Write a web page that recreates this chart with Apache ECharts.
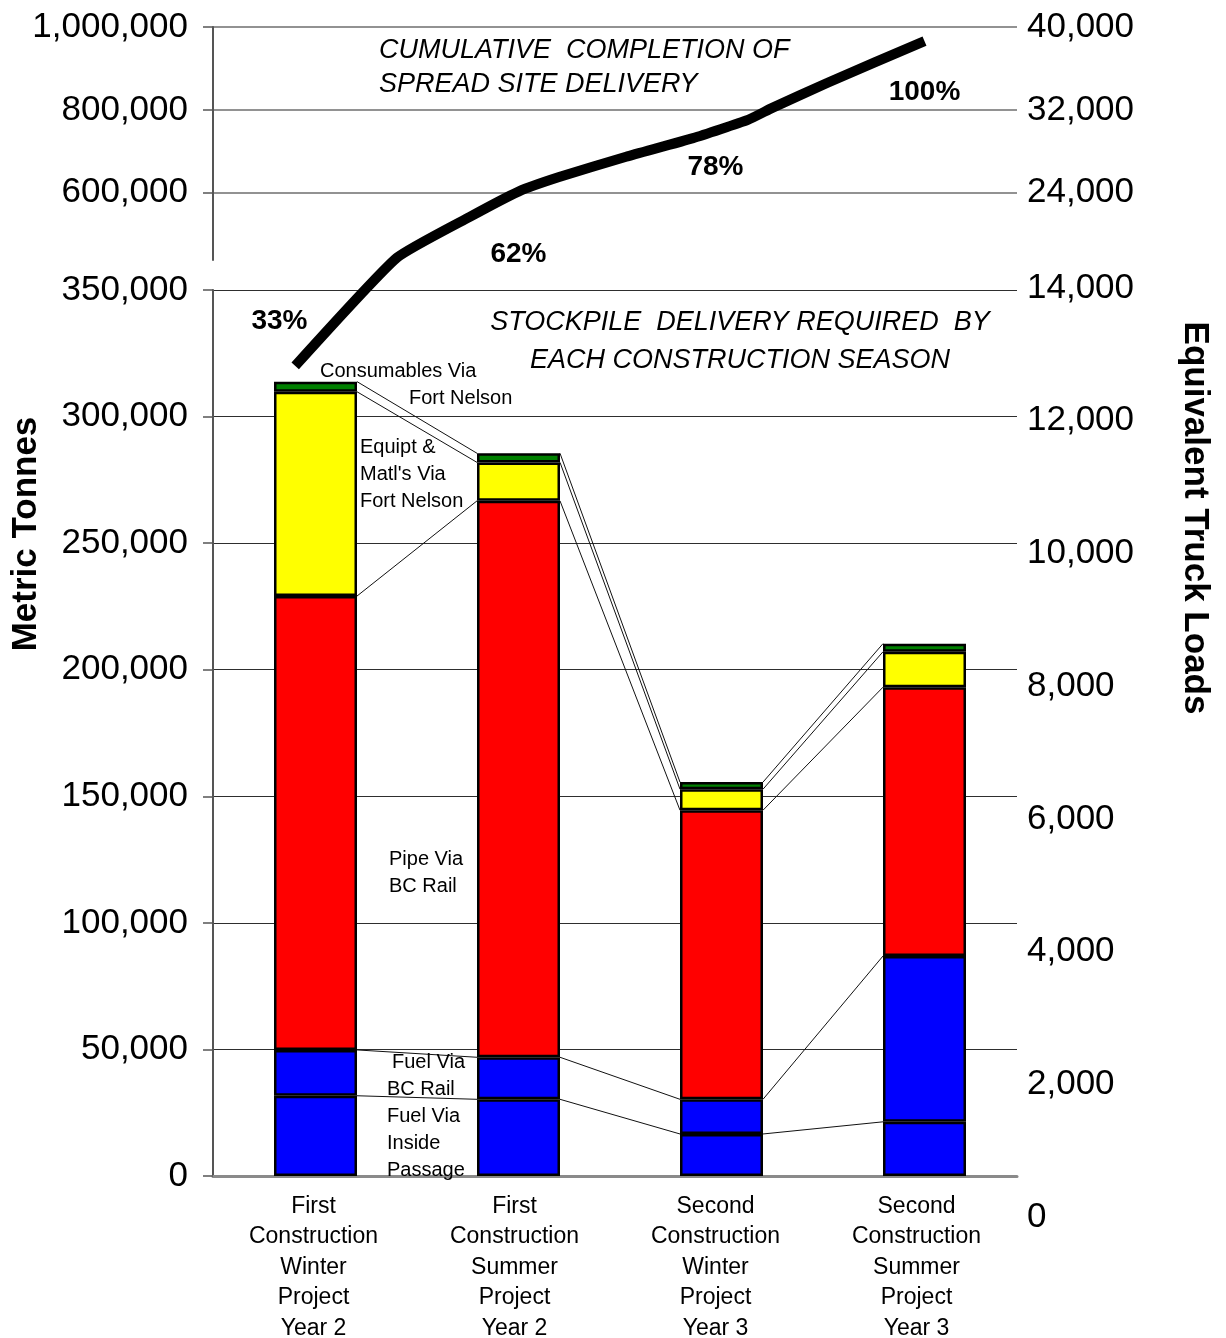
<!DOCTYPE html>
<html>
<head>
<meta charset="utf-8">
<title>Stockpile Delivery by Construction Season</title>
<script src="https://cdn.jsdelivr.net/npm/echarts@6/dist/echarts.min.js"></script>
<style>
  html, body { margin: 0; padding: 0; background: #fff; }
  #chart { width: 1226px; height: 1338px; }
</style>
</head>
<body>
<div id="chart"></div>
<script>
// ---- data ----
const categories = [
  'First\nConstruction\nWinter\nProject\nYear 2',
  'First\nConstruction\nSummer\nProject\nYear 2',
  'Second\nConstruction\nWinter\nProject\nYear 3',
  'Second\nConstruction\nSummer\nProject\nYear 3'
];
// metric tonnes per season, stacked bottom to top
const fuelInsidePassage     = [31700, 30300, 16600, 21400];
const fuelBCRail            = [18100, 16600, 13700, 65500];
const pipeBCRail            = [179300, 219800, 114200, 106200];
const equipMatlsFortNelson  = [80700, 15200, 8300, 14000];
const consumablesFortNelson = [4000, 3600, 2800, 3200];

// cumulative completion curve (position along the season axis, tonnes)
const cumulativeX      = [-0.1, 0.4, 0.76, 1.0, 1.2, 1.53, 1.86, 2.13, 2.25, 2.52, 3.0];
const cumulativeTonnes = [320000, 443000, 542000, 603000, 638000, 687000, 732000, 776000, 805000, 865000, 966000];

// axis tick values
const upperTonneTicks = [600000, 800000, 1000000];
const upperTruckTicks = [24000, 32000, 40000];

// ---- layout of the broken value axis ----
const FONT = "'Liberation Sans', Arial, sans-serif";
const LEFT = 213, PLOT_W = 804;
const BAR_LEFT = 214, BAR_W_AREA = 812, BAR_WIDTH = 83;
const LOW_TOP = 290, LOW_H = 886, LOW_MAX = 350000;
const UP_TOP = 27, UP_H = 233, UP_MIN = 438000, UP_MAX = 1000000;
const GAP_PX = LOW_TOP - (UP_TOP + UP_H);
const pxPerTLow = LOW_H / LOW_MAX;
const pxPerTUp = UP_H / (UP_MAX - UP_MIN);

// maps tonnes onto one continuous scale spanning both axis segments
function brokenScale(v) {
  if (v <= LOW_MAX) return v;
  if (v >= UP_MIN) return LOW_MAX + (GAP_PX + (v - UP_MIN) * pxPerTUp) / pxPerTLow;
  return LOW_MAX + ((v - LOW_MAX) / (UP_MIN - LOW_MAX)) * GAP_PX / pxPerTLow;
}

const stackSeries = [
  { name: 'Fuel Via Inside Passage', data: fuelInsidePassage, color: '#0000FF' },
  { name: 'Fuel Via BC Rail', data: fuelBCRail, color: '#0000FF' },
  { name: 'Pipe Via BC Rail', data: pipeBCRail, color: '#FF0000' },
  { name: "Equipt & Matl's Via Fort Nelson", data: equipMatlsFortNelson, color: '#FFFF00' },
  { name: 'Consumables Via Fort Nelson', data: consumablesFortNelson, color: '#008000' }
];

// cumulative tops of each stack boundary, per season
const boundaries = [];
let running = [0, 0, 0, 0];
stackSeries.forEach(s => {
  running = running.map((r, i) => r + s.data[i]);
  boundaries.push(running.slice());
});
const seasonTotals = boundaries[boundaries.length - 1];
const grandTotal = seasonTotals.reduce((a, b) => a + b, 0);
const cumulativeBySeason = [];
seasonTotals.reduce((acc, t) => { cumulativeBySeason.push(acc + t); return acc + t; }, 0);

// connector segments between adjacent bars
const connectorData = [];
boundaries.forEach(b => {
  for (let i = 0; i < b.length - 1; i++) connectorData.push([i, b[i], i + 1, b[i + 1]]);
});

const pctOffsets = [[-36, -60], [0, 61], [-6, 39], [0, 51]];

const fmt = v => Number(v).toLocaleString('en-US');
const tickLabel = { color: '#000', fontSize: 35, fontFamily: FONT, formatter: fmt };

const gridBase = { outerBoundsMode: 'none', containLabel: false };

const chart = echarts.init(document.getElementById('chart'), null, { renderer: 'canvas' });

const option = {
  animation: false,
  backgroundColor: '#fff',
  textStyle: { fontFamily: FONT },
  grid: [
    Object.assign({ left: LEFT, top: LOW_TOP, width: PLOT_W, height: LOW_H }, gridBase),          // lower tonnes axis
    Object.assign({ left: LEFT, top: UP_TOP, width: PLOT_W, height: UP_H }, gridBase),            // upper tonnes axis
    Object.assign({ left: LEFT, top: 288, width: PLOT_W, height: 929 }, gridBase),                // truck loads (lower)
    Object.assign({ left: BAR_LEFT, top: LOW_TOP, width: BAR_W_AREA, height: LOW_H }, gridBase),  // bars
    Object.assign({ left: BAR_LEFT, top: UP_TOP, width: BAR_W_AREA, height: LOW_TOP + LOW_H - UP_TOP }, gridBase) // cumulative curve
  ],
  xAxis: [
    {
      gridIndex: 0, type: 'category', data: categories,
      axisLine: { show: true, lineStyle: { color: '#8a8a8a', width: 3 } },
      axisTick: { show: false },
      axisLabel: { color: '#000', fontSize: 23, lineHeight: 30.5, margin: 15, fontFamily: FONT, interval: 0 },
      splitLine: { show: false }
    },
    { gridIndex: 1, type: 'category', data: categories, show: false },
    { gridIndex: 2, type: 'value', show: false },
    { gridIndex: 3, type: 'category', data: categories, show: false },
    { gridIndex: 4, type: 'value', min: -0.5, max: 3.5, show: false }
  ],
  yAxis: [
    {
      gridIndex: 0, type: 'value', min: 0, max: LOW_MAX, interval: 50000,
      axisLine: { show: true, lineStyle: { color: '#555', width: 2 } },
      axisTick: { show: true, length: 10, lineStyle: { color: '#555', width: 1.5 } },
      axisLabel: Object.assign({ margin: 25 }, tickLabel),
      splitLine: { show: true, lineStyle: { color: '#2e2e2e', width: 1.2 } }
    },
    {
      gridIndex: 1, type: 'value', min: UP_MIN, max: UP_MAX,
      axisLine: { show: true, lineStyle: { color: '#555', width: 2 } },
      axisTick: { show: true, length: 10, customValues: upperTonneTicks, lineStyle: { color: '#555', width: 1.5 } },
      axisLabel: Object.assign({ margin: 25, customValues: upperTonneTicks }, tickLabel),
      splitLine: { show: true, lineStyle: { color: '#6e6e6e', width: 1.5 } }
    },
    {
      gridIndex: 1, type: 'value', position: 'right', min: UP_MIN / 25, max: UP_MAX / 25,
      axisLine: { show: false }, axisTick: { show: false }, splitLine: { show: false },
      axisLabel: Object.assign({ margin: 10, customValues: upperTruckTicks }, tickLabel)
    },
    {
      gridIndex: 2, type: 'value', position: 'right', min: 0, max: 14000, interval: 2000,
      axisLine: { show: false }, axisTick: { show: false }, splitLine: { show: false },
      axisLabel: Object.assign({ margin: 10 }, tickLabel)
    },
    { gridIndex: 3, type: 'value', min: 0, max: LOW_MAX, show: false },
    { gridIndex: 4, type: 'value', min: 0, max: brokenScale(UP_MAX), show: false }
  ],
  series: [
    ...stackSeries.map(s => ({
      name: s.name, type: 'bar', stack: 'season', xAxisIndex: 3, yAxisIndex: 4,
      barWidth: BAR_WIDTH, data: s.data,
      itemStyle: { color: s.color, borderColor: '#000', borderWidth: 2.5 },
      z: 3
    })),
    {
      type: 'custom', name: 'connectors', coordinateSystem: 'cartesian2d',
      xAxisIndex: 3, yAxisIndex: 4, data: connectorData,
      encode: { x: [0, 2], y: [1, 3] }, z: 2,
      renderItem: (params, api) => {
        const a = api.coord([api.value(0), api.value(1)]);
        const b = api.coord([api.value(2), api.value(3)]);
        const half = BAR_WIDTH / 2;
        return {
          type: 'line',
          shape: { x1: a[0] + half, y1: a[1], x2: b[0] - half, y2: b[1] },
          style: { stroke: '#111', lineWidth: 1 }
        };
      }
    },
    {
      type: 'line', name: 'cumulative', xAxisIndex: 4, yAxisIndex: 5,
      data: cumulativeX.map((x, i) => [x, brokenScale(cumulativeTonnes[i])]),
      symbol: 'none', smooth: 0.15,
      lineStyle: { color: '#000', width: 10, cap: 'butt', join: 'round' },
      z: 6
    },
    {
      type: 'scatter', name: 'completion', xAxisIndex: 4, yAxisIndex: 5,
      symbolSize: 0, itemStyle: { color: '#000', opacity: 1 },
      data: cumulativeBySeason.map((c, i) => ({
        value: [i, brokenScale(c)],
        label: { offset: pctOffsets[i] }
      })),
      label: {
        show: true, position: 'inside', color: '#000', opacity: 1,
        textBorderWidth: 0, fontSize: 28, fontWeight: 'bold', fontFamily: FONT,
        formatter: p => Math.round(cumulativeBySeason[p.dataIndex] / grandTotal * 100) + '%'
      },
      z: 7
    }
  ],
  graphic: [
    { type: 'text', x: 379, y: 50, style: { text: 'CUMULATIVE  COMPLETION OF', font: 'italic 27px ' + FONT, fill: '#000', textAlign: 'left', textVerticalAlign: 'middle' } },
    { type: 'text', x: 379, y: 84, style: { text: 'SPREAD SITE DELIVERY', font: 'italic 27px ' + FONT, fill: '#000', textAlign: 'left', textVerticalAlign: 'middle' } },
    { type: 'text', x: 740, y: 322, style: { text: 'STOCKPILE  DELIVERY REQUIRED  BY', font: 'italic 27px ' + FONT, fill: '#000', textAlign: 'center', textVerticalAlign: 'middle' } },
    { type: 'text', x: 740, y: 360, style: { text: 'EACH CONSTRUCTION SEASON', font: 'italic 27px ' + FONT, fill: '#000', textAlign: 'center', textVerticalAlign: 'middle' } },
    { type: 'text', x: 26, y: 534, rotation: Math.PI / 2, style: { text: 'Metric Tonnes', font: 'bold 35px ' + FONT, fill: '#000', textAlign: 'center', textVerticalAlign: 'middle' } },
    { type: 'text', x: 1195, y: 518, rotation: -Math.PI / 2, style: { text: 'Equivalent Truck Loads', font: 'bold 35px ' + FONT, fill: '#000', textAlign: 'center', textVerticalAlign: 'middle' } },
    ...[
      ['Consumables Via', 320, 371], ['Fort Nelson', 409, 398],
      ['Equipt &', 360, 447], ["Matl's Via", 360, 474], ['Fort Nelson', 360, 501],
      ['Pipe Via', 389, 859], ['BC Rail', 389, 886],
      ['Fuel Via', 392, 1062], ['BC Rail', 387, 1089],
      ['Fuel Via', 387, 1116], ['Inside', 387, 1143], ['Passage', 387, 1170]
    ].map(([t, x, y]) => ({
      type: 'text', x, y, z: 10,
      style: { text: t, font: '20px ' + FONT, fill: '#000', textAlign: 'left', textVerticalAlign: 'middle' }
    }))
  ]
};

chart.setOption(option);
</script>
</body>
</html>
